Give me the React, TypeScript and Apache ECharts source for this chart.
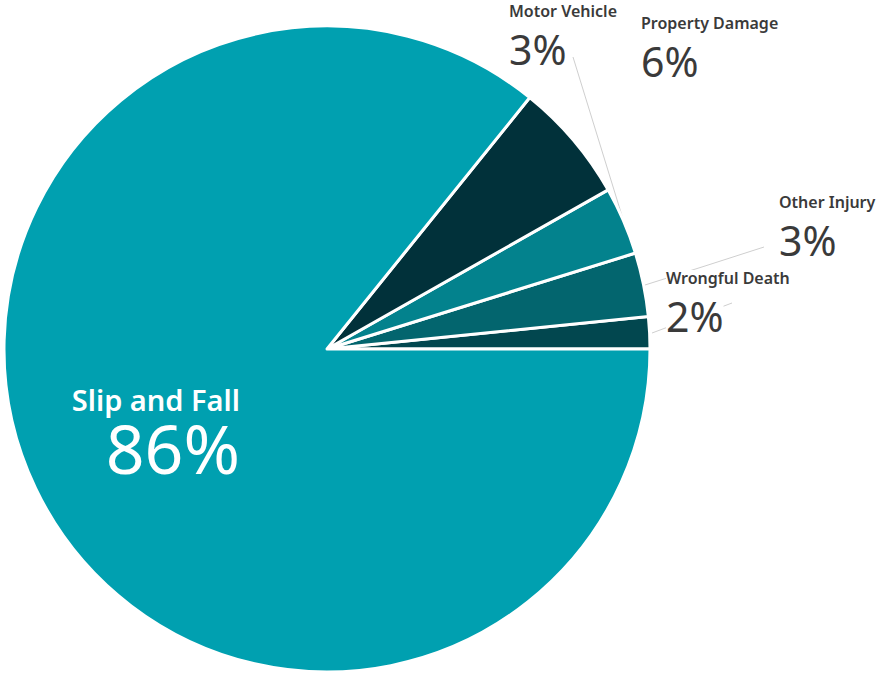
import React, { useEffect, useRef } from "react";
import * as echarts from "echarts";

const categories = ["Wrongful Death", "Other Injury", "Motor Vehicle", "Property Damage", "Slip and Fall"];
const values = [1.6, 3.2, 3.4, 6.0, 85.8];
const colors = ["#02474F", "#03656E", "#03828D", "#01313A", "#00A0B0"];

// label anchor (top-left, or top-right for the inside label) and leader lines, in pixels
const labelPos: Record<number, { x: number; y: number; align: string }> = {
  0: { x: 666, y: 258, align: "left" },
  1: { x: 779, y: 189, align: "left" },
  2: { x: 509, y: -2, align: "left" },
  3: { x: 641, y: 10, align: "left" },
  4: { x: 240, y: 382, align: "right" },
};
const linePts: Record<number, number[][]> = {
  0: [[652, 333], [692, 318], [732, 303]],
  1: [[645, 285], [705, 266], [764, 247]],
  2: [[631, 245], [602, 151], [573, 57]],
};

const FONT = "'Noto Sans', sans-serif";

export default function App() {
  const ref = useRef<HTMLDivElement>(null);
  useEffect(() => {
    if (!ref.current) return;
    const chart = echarts.init(ref.current, undefined, { renderer: "svg" });
    const data = categories.map((name, i) => {
      const inside = i === 4;
      const tall = i === 0;
      return {
        name,
        value: values[i],
        itemStyle: { color: colors[i] },
        labelLine: { show: i <= 2 },
        label: inside
          ? {
              position: "inside",
              formatter: (p: any) => `{n|${p.name}}\n{p|${Math.round(p.percent)}%}`,
              rich: {
                n: { fontSize: 29, fontWeight: 600, color: "#ffffff", lineHeight: 34, fontFamily: FONT, align: "right" },
                p: { fontSize: 68, color: "#ffffff", lineHeight: 62, fontFamily: FONT, align: "right" },
              },
            }
          : {
              position: "outside",
              formatter: (p: any) => `{n|${p.name}}\n{p|${Math.round(p.percent)}%}`,
              rich: {
                n: { fontSize: 16, fontWeight: 600, color: "#3a3a3a", lineHeight: tall ? 40 : 26, fontFamily: FONT, backgroundColor: "#ffffff", align: "left" },
                p: { fontSize: 41, color: "#3a3a3a", lineHeight: tall ? 35 : 49, fontFamily: FONT, backgroundColor: "#ffffff", align: "left" },
              },
            },
      };
    });
    chart.setOption({
      animation: false,
      series: [
        {
          type: "pie",
          center: [327, 349],
          radius: 323,
          startAngle: 0,
          clockwise: false,
          avoidLabelOverlap: false,
          itemStyle: { borderColor: "#ffffff", borderWidth: 3 },
          labelLine: { lineStyle: { color: "#cfcfcf", width: 1 }, length: 10, length2: 10 },
          emphasis: { disabled: true },
          data,
          labelLayout: (params: any) => {
            const pos = labelPos[params.dataIndex];
            const res: any = { x: pos.x, y: pos.y, align: pos.align, verticalAlign: "top" };
            const pts = linePts[params.dataIndex];
            if (pts) res.labelLinePoints = pts;
            return res;
          },
        },
      ],
    });
    return () => chart.dispose();
  }, []);
  return <div ref={ref} style={{ position: "absolute", left: 0, top: 0, width: 881, height: 674 }} />;
}
